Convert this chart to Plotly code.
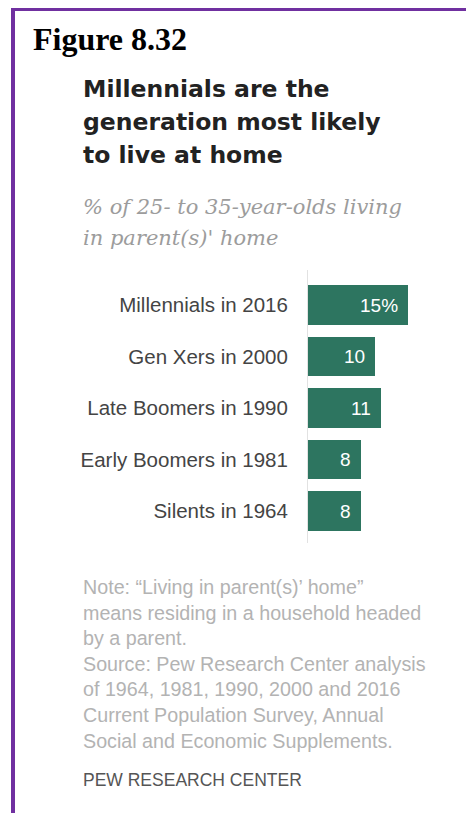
import plotly.graph_objects as go

W, H = 474, 813
PAGE = 8  # default page margin round the plot div

groups = ["Millennials in 2016", "Gen Xers in 2000", "Late Boomers in 1990",
          "Early Boomers in 1981", "Silents in 1964"]
shares = [15, 10, 11, 8, 8]
share_labels = ["15%", "10", "11", "8", "8"]

figure_label = "Figure 8.32"
title_lines = ["Millennials are the", "generation most likely", "to live at home"]
subtitle_lines = ["% of 25- to 35-year-olds living", "in parent(s)' home"]
note_lines = [
    "Note: \u201cLiving in parent(s)\u2019 home\u201d",
    "means residing in a household headed",
    "by a parent.",
    "Source: Pew Research Center analysis",
    "of 1964, 1981, 1990, 2000 and 2016",
    "Current Population Survey, Annual",
    "Social and Economic Supplements.",
]
credit = "PEW RESEARCH CENTER"

BAR = "#2d7560"
PURPLE = "#7030a0"
SANS = "Liberation Sans, Arial, sans-serif"


def px(x):
    return (x - PAGE) / W


def py(y):
    return 1 - (y - PAGE) / H


def paper_text(x, y, text, font, **kw):
    return dict(x=px(x), y=py(y), xref="paper", yref="paper", text=text,
                showarrow=False, xanchor="left", font=font, **kw)


fig = go.Figure(go.Bar(
    x=shares, y=groups, orientation="h",
    marker=dict(color=BAR, line=dict(width=0)),
    width=0.76, hoverinfo="skip",
))

ann = []
# value labels inside the bars
for g, v, t in zip(groups, shares, share_labels):
    ann.append(dict(x=v, y=g, xref="x", yref="y", text=t, showarrow=False,
                    xanchor="right", xshift=-8,
                    font=dict(family=SANS, size=19, color="white")))

ann.append(paper_text(31, 39, "<b>" + figure_label + "</b>",
                      dict(family="Liberation Serif, Times New Roman, serif",
                           size=32, color="black"), yanchor="middle"))

for i, line in enumerate(title_lines):
    ann.append(paper_text(81, 89 + 33 * i, "<b>" + line + "</b>",
                          dict(family="DejaVu Sans, sans-serif", size=23.5,
                               color="#222222"), yanchor="middle"))

for i, line in enumerate(subtitle_lines):
    ann.append(paper_text(81, 207 + 31 * i, "<i>" + line + "</i>",
                          dict(family="DejaVu Serif, Georgia, serif", size=21,
                               color="#9c9c9c"), yanchor="middle"))

ann.append(paper_text(81, 574, "<br>".join(note_lines),
                      dict(family=SANS, size=19.7, color="#b3b3b3"),
                      yanchor="top", align="left"))

ann.append(paper_text(81, 780, credit,
                      dict(family=SANS, size=17.5, color="#555555"),
                      yanchor="middle"))

# purple frame, left and top
frame = [
    dict(type="rect", xref="paper", yref="paper", x0=px(11), x1=px(15),
         y0=py(8), y1=py(830), fillcolor=PURPLE, line=dict(width=0)),
    dict(type="rect", xref="paper", yref="paper", x0=px(11), x1=px(490),
         y0=py(8), y1=py(11), fillcolor=PURPLE, line=dict(width=0)),
]

fig.update_layout(
    width=W, height=H,
    margin=dict(l=0, r=0, t=0, b=0),
    paper_bgcolor="white", plot_bgcolor="white",
    showlegend=False,
    bargap=0,
    annotations=ann,
    shapes=frame,
    xaxis=dict(domain=[px(308), px(462)], range=[0, 154 / (100 / 15)],
               visible=False, fixedrange=True),
    yaxis=dict(domain=[py(543), py(270)], type="category",
               categoryorder="array", categoryarray=groups,
               range=[4.62, -0.68], showgrid=False, zeroline=False,
               showline=True, linecolor="#e2e2e2", linewidth=1,
               ticks="", ticklabelstandoff=15,
               tickfont=dict(family=SANS, size=20.5, color="#444444"),
               fixedrange=True),
)

fig.write_html("out.html")
